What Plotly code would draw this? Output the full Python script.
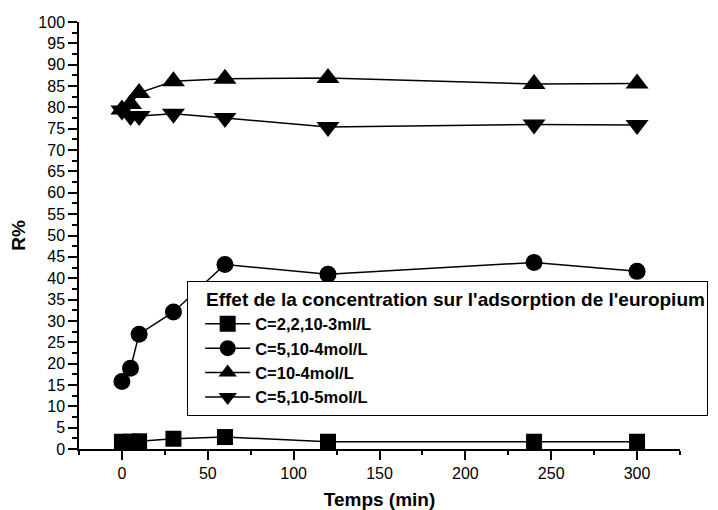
import plotly.graph_objects as go

# Data
temps = [0, 5, 10, 30, 60, 120, 240, 300]
series_names = ["C=2,2,10-3ml/L", "C=5,10-4mol/L", "C=10-4mol/L", "C=5,10-5mol/L"]
r_c1 = [1.7, 1.7, 1.8, 2.4, 2.8, 1.7, 1.7, 1.7]
r_c2 = [15.8, 18.9, 26.9, 32.1, 43.2, 40.9, 43.7, 41.6]
r_c3 = [79.5, 80.8, 83.4, 86.1, 86.7, 86.9, 85.5, 85.6]
r_c4 = [79.3, 78.0, 78.0, 78.5, 77.5, 75.4, 76.0, 75.9]
legend_title = "Effet de la concentration sur l'adsorption de l'europium"
x_title = "Temps (min)"
y_title = "R%"

FONT = "Liberation Sans, Arial, sans-serif"
symbols = ["square", "circle", "triangle-up", "triangle-down"]
sizes = [16, 17, 20, 20]

fig = go.Figure()
for name, ys, sym, sz in zip(series_names, [r_c1, r_c2, r_c3, r_c4], symbols, sizes):
    fig.add_trace(go.Scatter(
        x=temps, y=ys, name=name, mode="lines+markers",
        line=dict(color="black", width=1.5),
        marker=dict(symbol=sym, size=sz, color="black", line=dict(width=0)),
        cliponaxis=False,
    ))

axis_common = dict(showgrid=False, zeroline=False, showline=True, linecolor="black",
                   linewidth=1.5, tickcolor="black", tickwidth=1.5, automargin=False)

fig.update_layout(
    width=718, height=510,
    margin=dict(l=79, r=38, t=22, b=61, pad=0, autoexpand=False),
    paper_bgcolor="white", plot_bgcolor="white",
    font=dict(family=FONT, color="black", size=16),
    xaxis=dict(range=[-25, 325], tickmode="linear", tick0=0, dtick=50,
               ticks="outside", ticklen=9,
               minor=dict(dtick=25, tick0=0, ticks="outside", ticklen=4,
                          tickcolor="black", tickwidth=1.5),
               tickfont=dict(size=16),
               title=dict(text=x_title, font=dict(size=19, weight="bold"), standoff=12),
               **axis_common),
    yaxis=dict(range=[0, 100], tickmode="linear", tick0=0, dtick=5,
               ticks="outside", ticklen=9,
               minor=dict(dtick=2.5, tick0=0, ticks="outside", ticklen=5,
                          tickcolor="black", tickwidth=1.5),
               tickfont=dict(size=16),
               title=dict(text=y_title, font=dict(size=19, weight="bold"), standoff=8),
               **axis_common),
    xaxis2=dict(range=[-25, 325], overlaying="x", anchor="y", side="top",
                tickmode="linear", tick0=0, dtick=25, ticks="inside", ticklen=5,
                showticklabels=False, **axis_common),
    yaxis2=dict(range=[0, 100], overlaying="y", anchor="x", side="right",
                tickmode="linear", tick0=0, dtick=2.5, ticks="outside", ticklen=4,
                showticklabels=False, **axis_common),
    legend=dict(x=0.18, y=0.394, xanchor="left", yanchor="top",
                bgcolor="white", bordercolor="black", borderwidth=1,
                font=dict(size=16.5, weight="bold"),
                title=dict(text="\u00a0\u00a0\u00a0" + legend_title,
                           font=dict(size=19, weight="bold")),
                itemwidth=45, indentation=12,
                tracegroupgap=0),
    showlegend=True,
)

fig.write_html("out.html")
